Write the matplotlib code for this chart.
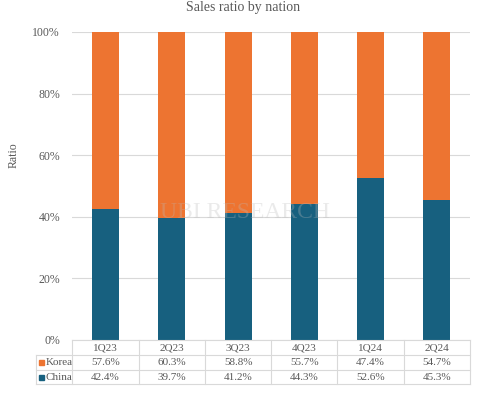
import matplotlib
matplotlib.use("Agg")
import matplotlib.pyplot as plt
from matplotlib.lines import Line2D
from matplotlib.patches import Rectangle

categories = ["1Q23", "2Q23", "3Q23", "4Q23", "1Q24", "2Q24"]
china = [42.4, 39.7, 41.2, 44.3, 52.6, 45.3]
korea = [57.6, 60.3, 58.8, 55.7, 47.4, 54.7]
yticks = [0, 20, 40, 60, 80, 100]

ORANGE = "#ED7431"
BLUE = "#17607F"
TXT = "#595959"
GRID = "#D9D9D9"

plt.rcParams["font.family"] = ["Liberation Serif", "DejaVu Serif"]

W, H = 485, 393
fig = plt.figure(figsize=(W / 100, H / 100), dpi=100)
L, R, T, B = 72.5, 470, 32, 340
ax = fig.add_axes([L / W, 1 - B / H, (R - L) / W, (B - T) / H])

x = list(range(len(categories)))
ax.bar(x, china, width=0.41, color=BLUE, zorder=3)
ax.bar(x, korea, width=0.41, bottom=china, color=ORANGE, zorder=3)

ax.set_xlim(-0.5, len(categories) - 0.5)
ax.set_ylim(0, 100)
ax.set_yticks(yticks)
ax.set_yticklabels([f"{v}%" for v in yticks], color=TXT, fontsize=8.5)
ax.tick_params(axis="y", length=0, pad=9)
ax.set_xticks([])
ax.yaxis.grid(True, color=GRID, linewidth=0.8, zorder=0)
for s in ax.spines.values():
    s.set_visible(False)

fig.text(14 / W, 1 - 155 / H, "Ratio", rotation=90, ha="center", va="center",
         color=TXT, fontsize=8.5)

fig.text(243 / W, 1 - 7 / H, "Sales ratio by nation", ha="center", va="center",
         color=TXT, fontsize=10)

# watermark
fig.text(245 / W, 1 - 212 / H, "UBI RESEARCH", ha="center", va="center",
         color="#BBBBBB", alpha=0.3, fontsize=17, zorder=5)

# data table (pixel coordinates)
def px(xp, yp):
    return xp / W, 1 - yp / H

lc = dict(color=GRID, linewidth=0.8, transform=fig.transFigure)
rows_y = [340, 355, 370, 384]
lab_l = 36
col_w = (R - L) / len(categories)
fig.add_artist(Line2D([L / W, R / W], [1 - rows_y[0] / H] * 2, **lc))
for yy in rows_y[1:]:
    fig.add_artist(Line2D([lab_l / W, R / W], [1 - yy / H] * 2, **lc))
for i in range(len(categories) + 1):
    xx = L + i * col_w
    fig.add_artist(Line2D([xx / W] * 2, [1 - rows_y[0] / H, 1 - rows_y[-1] / H], **lc))
fig.add_artist(Line2D([lab_l / W] * 2, [1 - rows_y[1] / H, 1 - rows_y[-1] / H], **lc))

fs = 8
for i, c in enumerate(categories):
    cx = L + (i + 0.5) * col_w
    fig.text(*px(cx, 347.5), c, ha="center", va="center", color=TXT, fontsize=fs)
    fig.text(*px(cx, 362.5), f"{korea[i]:.1f}%", ha="center", va="center", color=TXT, fontsize=fs)
    fig.text(*px(cx, 377), f"{china[i]:.1f}%", ha="center", va="center", color=TXT, fontsize=fs)

for name, col, yc in [("Korea", ORANGE, 362.5), ("China", BLUE, 377)]:
    fig.add_artist(Rectangle(px(39.5, yc + 2.5), 4.5 / W, 5 / H, color=col,
                             transform=fig.transFigure))
    fig.text(*px(45.5, yc), name, ha="left", va="center", color=TXT, fontsize=fs)

fig.savefig("out.png", dpi=100)
